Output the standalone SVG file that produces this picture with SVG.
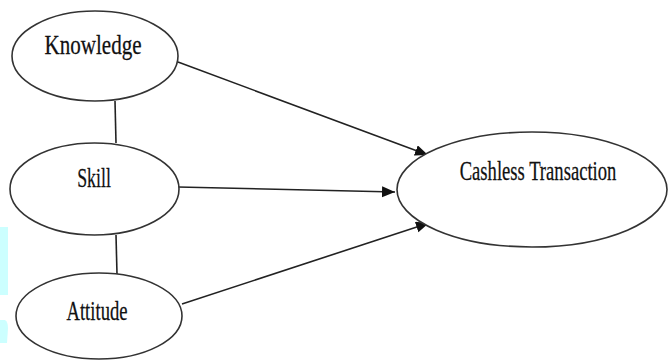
<svg xmlns="http://www.w3.org/2000/svg" width="670" height="362" viewBox="0 0 670 362">
<style>
.node ellipse{fill:#fff;stroke:#333;stroke-width:1.6}
.node text{font-family:"Liberation Serif","Times New Roman",serif;font-size:27px;fill:#111;stroke:#111;stroke-width:0.25;text-anchor:middle}
.conn line{stroke:#222;stroke-width:1.6}
</style>
<defs>
<marker id="ah" markerUnits="userSpaceOnUse" markerWidth="14" markerHeight="12" refX="13" refY="5.5" orient="auto">
<path d="M0,0 L13,5.5 L0,11 Z" fill="#111"/>
</marker>
</defs>
<rect width="670" height="362" fill="#fff"/>
<g id="bg">
<rect x="0" y="227" width="8" height="68" fill="#ccffff"/>
<path d="M0,320 L5,320 Q8,322 8,328 L7,343 L0,343 Z" fill="#ccffff"/>
</g>
<g class="conn" id="connectors">
<line x1="115" y1="101" x2="116" y2="143"/>
<line x1="116" y1="235" x2="117" y2="274"/>
<line x1="178" y1="62" x2="428" y2="155" marker-end="url(#ah)"/>
<line x1="178" y1="187" x2="395" y2="192" marker-end="url(#ah)"/>
<line x1="182" y1="304" x2="429" y2="223" marker-end="url(#ah)"/>
</g>
<g class="node" id="knowledge">
<ellipse cx="95" cy="56" rx="83" ry="45"/>
<text transform="translate(93,54) scale(0.78,1)">Knowledge</text>
</g>
<g class="node" id="skill">
<ellipse cx="94.5" cy="189" rx="84.5" ry="46"/>
<text transform="translate(94,187) scale(0.66,1)">Skill</text>
</g>
<g class="node" id="attitude">
<ellipse cx="99" cy="316" rx="83" ry="43"/>
<text transform="translate(97,320) scale(0.69,1)">Attitude</text>
</g>
<g class="node" id="cashless">
<ellipse cx="532" cy="189.5" rx="135" ry="57.5"/>
<text transform="translate(538,180) scale(0.69,1)">Cashless Transaction</text>
</g>
</svg>
